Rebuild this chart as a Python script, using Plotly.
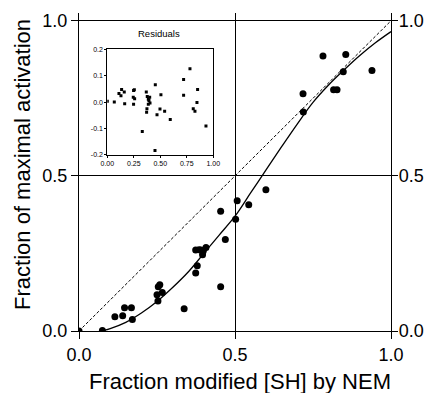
import plotly.graph_objects as go

# ---- data ----
frac_modified = [0.0, 0.075, 0.115, 0.14, 0.146, 0.168, 0.171, 0.253, 0.25, 0.267, 0.254, 0.259,
                 0.337, 0.374, 0.379, 0.374, 0.391, 0.396, 0.398, 0.407, 0.385, 0.454, 0.469, 0.454,
                 0.502, 0.507, 0.544, 0.599, 0.719, 0.718, 0.782, 0.816, 0.827, 0.847, 0.855, 0.939]
frac_activation = [0.0, 0.002, 0.046, 0.049, 0.075, 0.075, 0.037, 0.097, 0.117, 0.124, 0.143, 0.149,
                   0.072, 0.187, 0.21, 0.261, 0.261, 0.246, 0.257, 0.269, 0.262, 0.143, 0.295, 0.386,
                   0.36, 0.42, 0.407, 0.455, 0.706, 0.765, 0.886, 0.778, 0.778, 0.836, 0.891, 0.84]

fit_x = [0.07, 0.10, 0.15, 0.20, 0.25, 0.30, 0.35, 0.40, 0.45, 0.50, 0.55, 0.60, 0.65, 0.70,
         0.75, 0.80, 0.85, 0.90, 0.95, 1.00]
fit_y = [0.0, 0.008, 0.028, 0.058, 0.095, 0.14, 0.19, 0.25, 0.31, 0.37, 0.445, 0.52, 0.595, 0.668,
         0.737, 0.793, 0.842, 0.888, 0.929, 0.965]

identity_x = [0.0, 1.0]
identity_y = [0.0, 1.0]

resid_x = [0.0, 0.066, 0.11, 0.135, 0.129, 0.16, 0.164, 0.248, 0.255, 0.245, 0.258, 0.248,
           0.33, 0.368, 0.377, 0.387, 0.393, 0.387, 0.374, 0.371, 0.4, 0.403, 0.453, 0.45,
           0.469, 0.497, 0.506, 0.541, 0.594, 0.72, 0.72, 0.78, 0.811, 0.827, 0.846, 0.852, 0.931]
resid_y = [0.003, 0.001, 0.033, 0.048, 0.024, 0.038, -0.006, 0.044, 0.047, 0.019, 0.013, -0.008,
           -0.111, 0.038, 0.021, 0.011, 0.006, -0.008, -0.025, -0.038, 0.019, -0.003, 0.066, -0.183,
           -0.048, -0.026, 0.028, -0.034, -0.066, 0.086, 0.026, 0.126, -0.025, -0.034, -0.001, 0.048, -0.09]

main_ticks = [0.0, 0.5, 1.0]
main_ticktext = ["0.0", "0.5", "1.0"]
inset_xticks = [0.0, 0.25, 0.5, 0.75, 1.0]
inset_xticktext = ["0.00", "0.25", "0.50", "0.75", "1.00"]
inset_yticks = [-0.2, -0.1, 0.0, 0.1, 0.2]
inset_yticktext = ["-0.2", "-0.1", "0.0", "0.1", "0.2"]

FONT = "Liberation Sans, Arial, Helvetica, sans-serif"

fig = go.Figure()
fig.add_trace(go.Scatter(x=fit_x, y=fit_y, mode="lines", line=dict(color="black", width=1.3, shape="spline", smoothing=1.0),
                         xaxis="x", yaxis="y", showlegend=False, hoverinfo="skip"))
fig.add_trace(go.Scatter(x=identity_x, y=identity_y, mode="lines",
                         line=dict(color="black", width=1, dash="3px,2px"),
                         xaxis="x", yaxis="y2", showlegend=False, hoverinfo="skip"))
fig.add_trace(go.Scatter(x=frac_modified, y=frac_activation, mode="markers",
                         marker=dict(color="black", size=7, symbol="circle"),
                         xaxis="x", yaxis="y", showlegend=False))
fig.add_trace(go.Scatter(x=resid_x, y=resid_y, mode="markers",
                         marker=dict(color="black", size=3, symbol="square"),
                         xaxis="x3", yaxis="y3", showlegend=False))

axis_common = dict(tickvals=main_ticks, ticktext=main_ticktext, ticks="outside",
                   tickcolor="black", tickwidth=1, showline=True, linecolor="black", linewidth=1.3,
                   zeroline=False, automargin=False,
                   tickfont=dict(size=18, color="black", family=FONT))

inset_common = dict(ticks="outside", ticklen=2, tickcolor="black", showline=True, mirror=True,
                    linecolor="black", linewidth=1, showgrid=False, zeroline=False, automargin=False,
                    tickfont=dict(size=7, color="black", family=FONT))

fig.update_layout(
    template="none",
    width=425, height=393,
    margin=dict(l=79, r=34, t=13, b=62),
    paper_bgcolor="white", plot_bgcolor="white",
    font=dict(family=FONT, color="black"),
    showlegend=False,
    xaxis=dict(range=[0, 1], domain=[0, 1], anchor="y", showgrid=True, gridcolor="black", gridwidth=1,
               ticklen=7, **axis_common),
    yaxis=dict(range=[0, 1.025], domain=[0, 1], anchor="x", showgrid=True, gridcolor="black", gridwidth=1,
               side="left", ticklen=7, **axis_common),
    yaxis2=dict(range=[0, 1.025], overlaying="y", side="right", anchor="x", matches="y",
                showgrid=False, ticklen=6, ticklabelstandoff=-3, **axis_common),
    xaxis3=dict(domain=[0.0907, 0.4304], range=[0, 1], anchor="y3", tickvals=inset_xticks,
                ticktext=inset_xticktext, **inset_common),
    yaxis3=dict(domain=[0.5535, 0.8858], range=[-0.2, 0.2], anchor="x3", tickvals=inset_yticks,
                ticktext=inset_yticktext, **inset_common),
    annotations=[
        dict(text="Fraction modified [SH] by NEM", xref="paper", yref="paper", x=0.516, y=-0.158,
             xanchor="center", yanchor="middle", showarrow=False, font=dict(size=22, family=FONT)),
        dict(text="Fraction of maximal activation", xref="paper", yref="paper", x=-0.183, y=0.525,
             xanchor="center", yanchor="middle", textangle=-90, showarrow=False,
             font=dict(size=22, family=FONT)),
        dict(text="Residuals", xref="paper", yref="paper", x=0.256, y=0.936,
             xanchor="center", yanchor="middle", showarrow=False, font=dict(size=9.5, family=FONT)),
    ],
)

fig.write_html("out.html")
